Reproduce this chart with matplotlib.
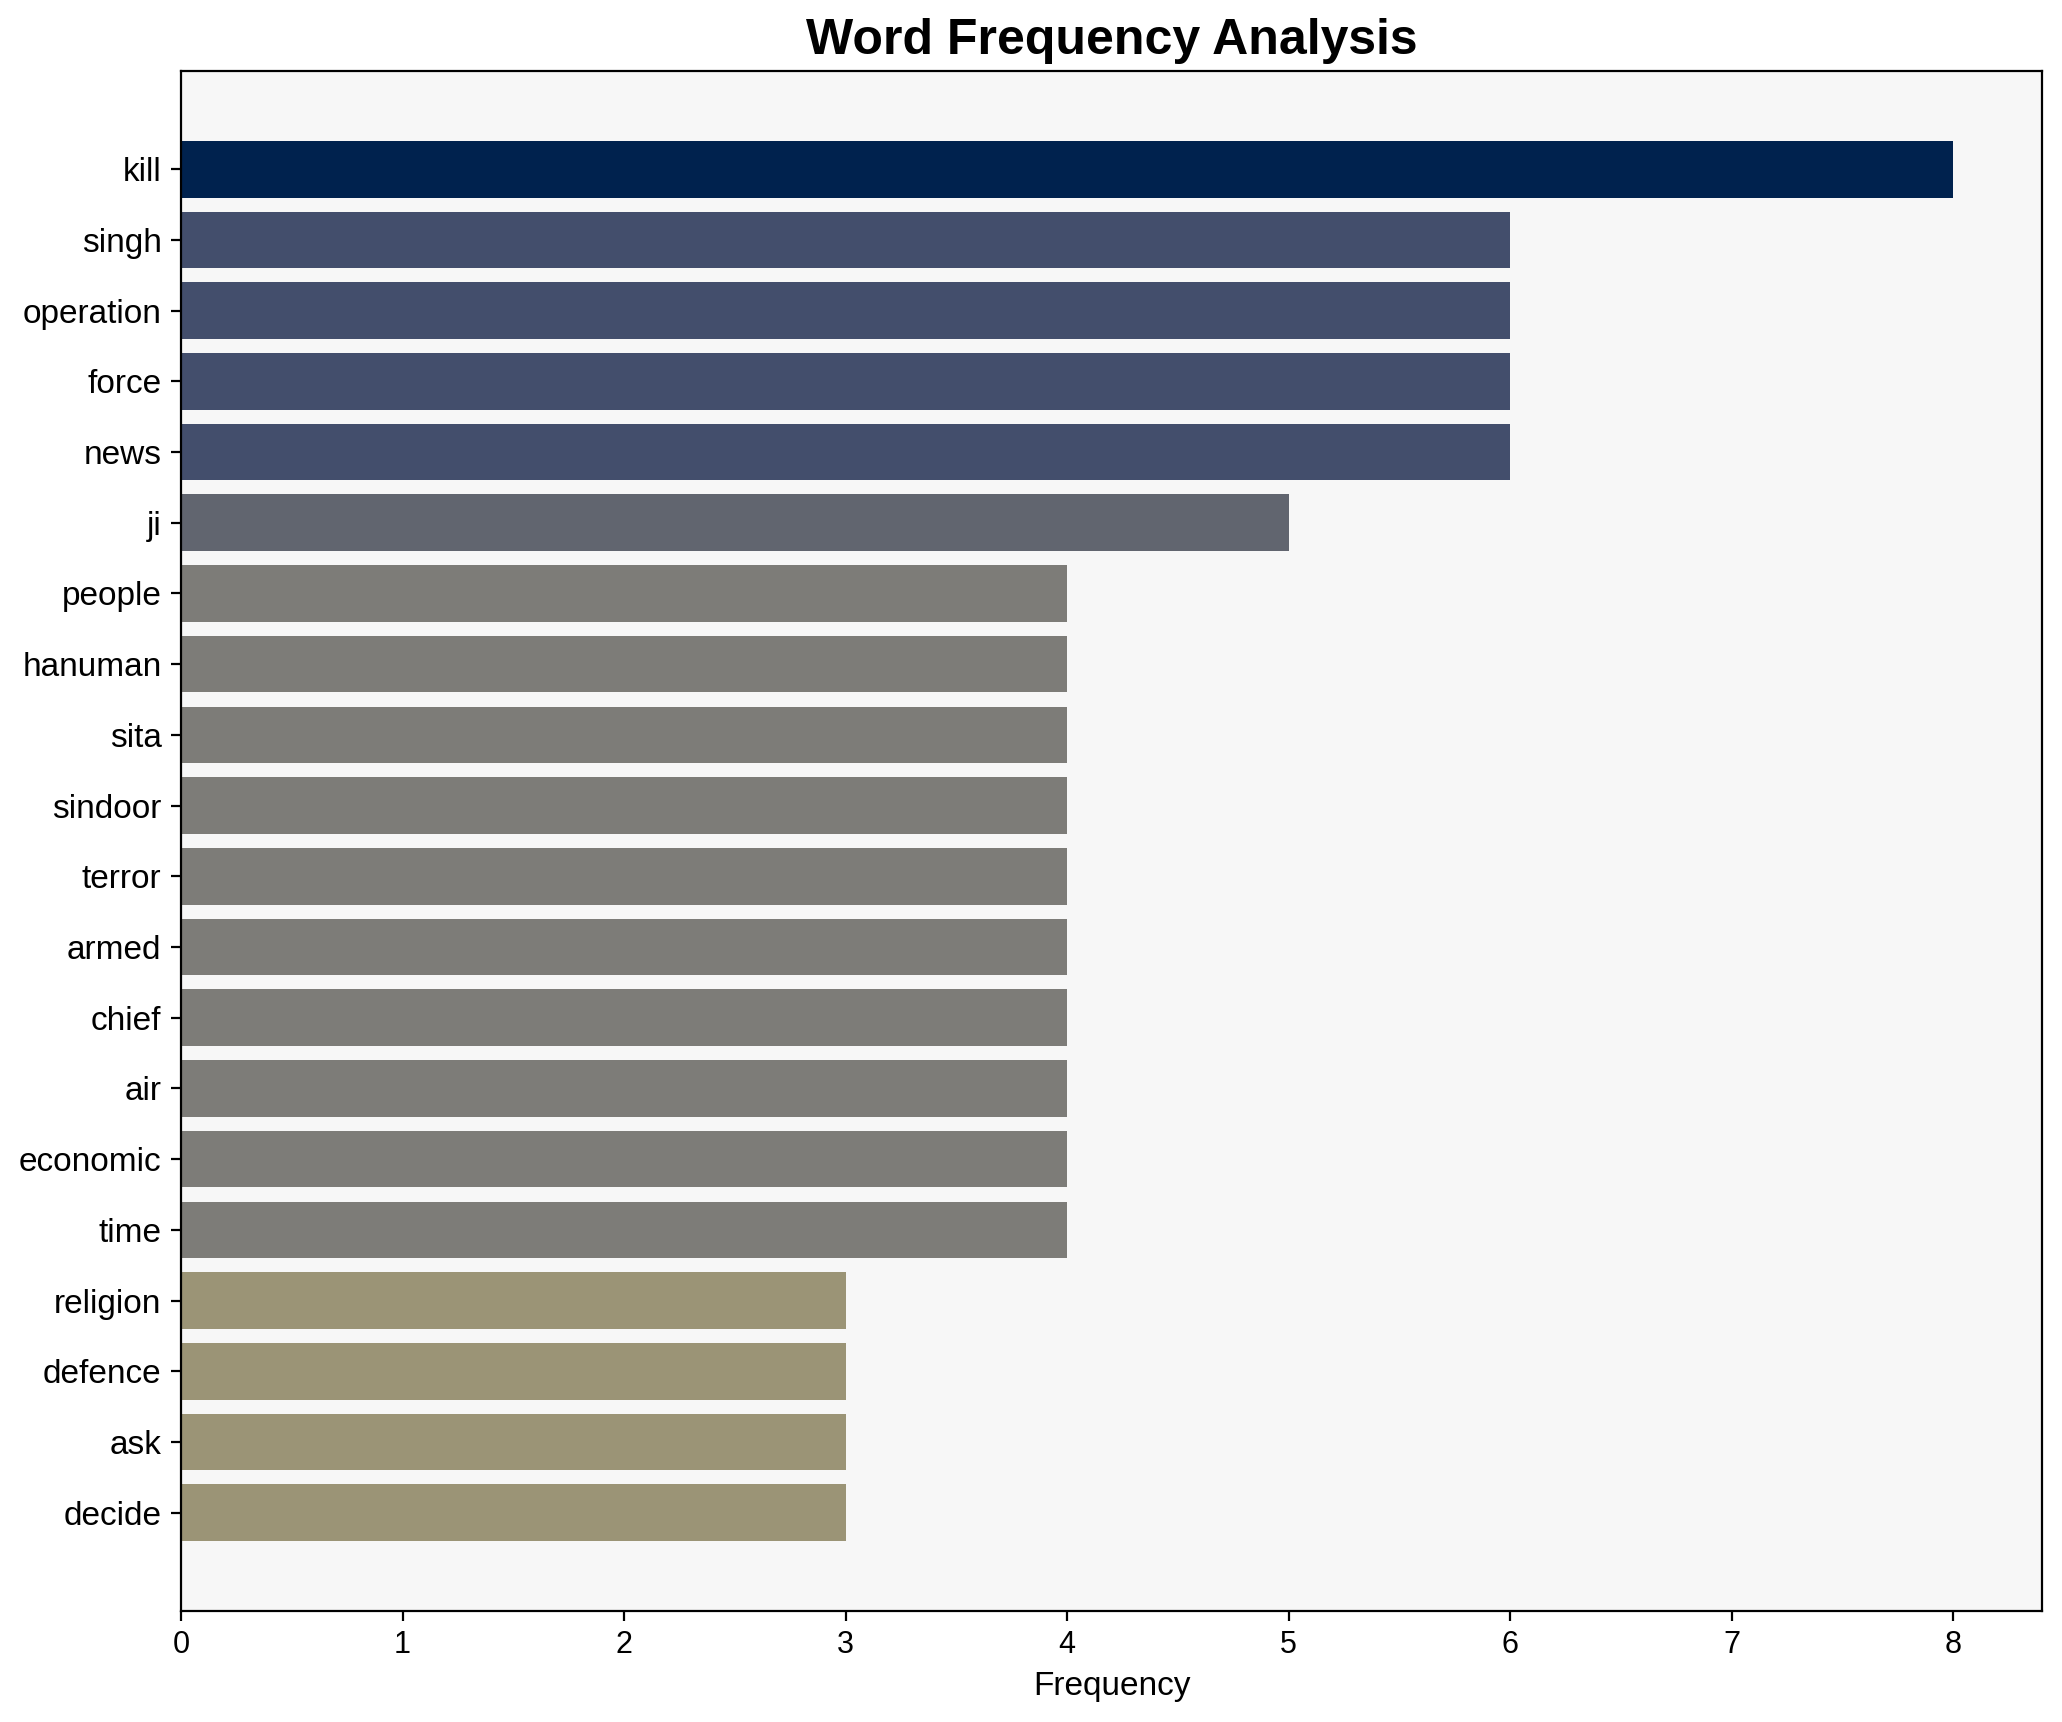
import matplotlib
matplotlib.use("Agg")
import matplotlib.pyplot as plt
import numpy as np

plt.rcParams['font.family'] = ['Liberation Sans', 'DejaVu Sans']

words = ["kill", "singh", "operation", "force", "news", "ji", "people", "hanuman",
         "sita", "sindoor", "terror", "armed", "chief", "air", "economic", "time",
         "religion", "defence", "ask", "decide"]
freqs = [8, 6, 6, 6, 6, 5, 4, 4, 4, 4, 4, 4, 4, 4, 4, 4, 3, 3, 3, 3]

fig = plt.figure(figsize=(10.31, 8.61), dpi=200)
ax = fig.add_axes([0.0878, 0.0645, 0.9025, 0.8943])
ax.set_facecolor('#f7f7f7')

vals = np.array(freqs, dtype=float)
colors = plt.cm.cividis(1 - vals / vals.max())
y = np.arange(len(words))
ax.barh(y, vals, color=colors, height=0.8)
ax.set_yticks(y)
ax.set_yticklabels(words, fontsize=12)
ax.invert_yaxis()
ax.tick_params(axis='x', labelsize=11)
ax.set_xlabel("Frequency", fontsize=12)
ax.set_title("Word Frequency Analysis", fontsize=18, fontweight='bold')
ax.set_xticks(range(0, 9))

fig.savefig("out.png", dpi=200)
